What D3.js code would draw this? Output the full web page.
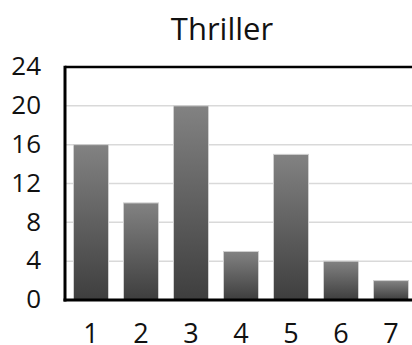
<!DOCTYPE html>
<html>
<head>
<meta charset="utf-8">
<script src="https://cdn.jsdelivr.net/npm/d3@7"></script>
<style>
  html, body { margin: 0; padding: 0; background: #fff; }
  svg { display: block; }
  text { font-family: "Open Sans", "Noto Sans", sans-serif; fill: #111; }
</style>
</head>
<body>
<svg id="chart" width="412" height="345"></svg>
<script>
// Chart data
const categories = ["1", "2", "3", "4", "5", "6", "7"];
const values = [16, 10, 20, 5, 15, 4, 2];
const yTicks = [0, 4, 8, 12, 16, 20, 24];
const title = "Thriller";

const svg = d3.select("#chart");
const plot = { left: 65, right: 416, top: 67, bottom: 300 };

const x = d3.scaleBand()
  .domain(categories)
  .range([plot.left + 1, plot.right])
  .paddingInner(0.3)
  .paddingOuter(0.15);

const y = d3.scaleLinear()
  .domain([0, 24])
  .range([plot.bottom, plot.top]);

// Vertical gradient for bar fill: lighter at the top, darker at the base
const defs = svg.append("defs");
const grad = defs.append("linearGradient")
  .attr("id", "barGrad")
  .attr("x1", 0).attr("y1", 0).attr("x2", 0).attr("y2", 1);
grad.append("stop").attr("offset", "0%").attr("stop-color", "#828282");
grad.append("stop").attr("offset", "100%").attr("stop-color", "#3e3e3e");

// Horizontal gridlines
svg.append("g")
  .selectAll("line")
  .data(yTicks.filter(d => d > 0 && d < 24))
  .join("line")
  .attr("x1", plot.left)
  .attr("x2", plot.right)
  .attr("y1", d => y(d))
  .attr("y2", d => y(d))
  .attr("stroke", "#d9d9d9")
  .attr("stroke-width", 1.5);

// Bars
svg.append("g")
  .selectAll("rect")
  .data(values)
  .join("rect")
  .attr("x", (d, i) => x(categories[i]))
  .attr("width", x.bandwidth())
  .attr("y", d => y(d))
  .attr("height", d => y(0) - y(d))
  .attr("fill", "url(#barGrad)")
  .attr("stroke", "#cfcfcf")
  .attr("stroke-width", 1);

// Frame: top, left, bottom
svg.append("line")
  .attr("x1", plot.left).attr("x2", plot.right)
  .attr("y1", plot.top).attr("y2", plot.top)
  .attr("stroke", "#000").attr("stroke-width", 2.5);
svg.append("line")
  .attr("x1", plot.left).attr("x2", plot.left)
  .attr("y1", plot.top - 1.25).attr("y2", plot.bottom + 1.5)
  .attr("stroke", "#000").attr("stroke-width", 3);
svg.append("line")
  .attr("x1", plot.left - 1.5).attr("x2", plot.right)
  .attr("y1", plot.bottom).attr("y2", plot.bottom)
  .attr("stroke", "#000").attr("stroke-width", 3);

// Y axis tick labels
const yAxis = d3.axisLeft(y).tickValues(yTicks).tickSize(0).tickPadding(0);
const gy = svg.append("g")
  .attr("transform", `translate(41,0)`)
  .call(yAxis);
gy.select(".domain").remove();
gy.selectAll("text")
  .attr("font-size", 26)
  .attr("fill", "#111")
  .attr("dy", "0.3em")
  .style("font-family", "'Open Sans', sans-serif");

// X axis tick labels
const xAxis = d3.axisBottom(x).tickSize(0).tickPadding(0);
const gx = svg.append("g")
  .attr("transform", `translate(0,${plot.bottom + 24})`)
  .call(xAxis);
gx.select(".domain").remove();
gx.selectAll("text")
  .attr("font-size", 27)
  .attr("fill", "#111")
  .attr("dy", "0.72em")
  .style("font-family", "'Open Sans', sans-serif");

// Title
svg.append("text")
  .attr("x", 222)
  .attr("y", 40)
  .attr("text-anchor", "middle")
  .attr("font-size", 31)
  .text(title);
</script>
</body>
</html>
